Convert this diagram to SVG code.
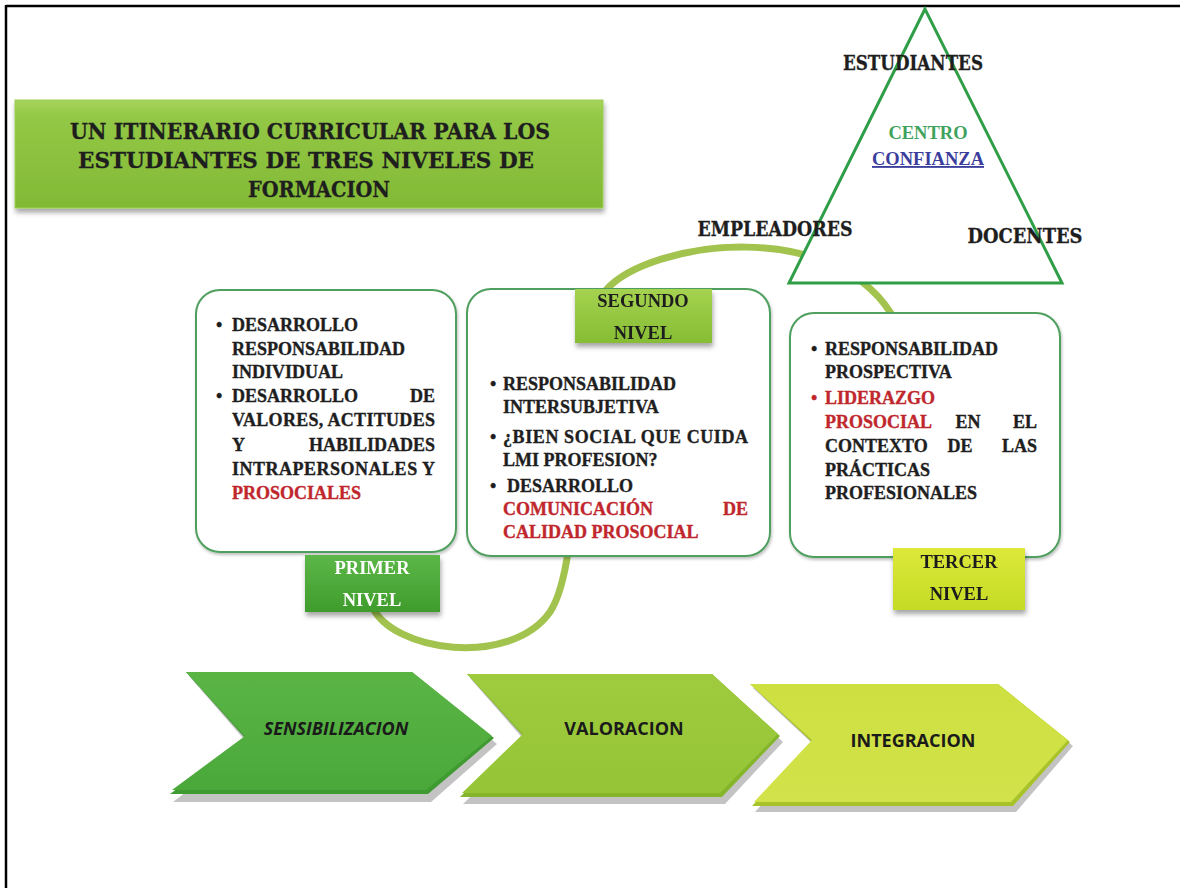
<svg xmlns="http://www.w3.org/2000/svg" width="1180" height="888" viewBox="0 0 1180 888">
<defs>
<style>
.sf{font-family:"Liberation Serif","DejaVu Serif",serif;font-weight:bold;font-size:18px;fill:#1e1e1e;stroke:#1e1e1e;stroke-width:0.35}
.hv{font-family:"DejaVu Serif","Liberation Serif",serif;font-weight:bold;fill:#1e1e1e;stroke:#1e1e1e;stroke-width:0.3}
.red{fill:#c0272d;stroke:#c0272d}
.tab{font-family:"Liberation Serif","DejaVu Serif",serif;font-weight:bold;font-size:18.5px;text-anchor:middle}
.box{fill:#ffffff;stroke:#4f9f5e;stroke-width:2}
.chev{font-family:"Open Sans","Liberation Sans",sans-serif;font-weight:bold;font-size:18px;fill:#1a1a1a;text-anchor:middle}
</style>
<linearGradient id="gTitle" x1="0" y1="0" x2="0" y2="1"><stop offset="0" stop-color="#a6d35a"/><stop offset="0.15" stop-color="#93c846"/><stop offset="1" stop-color="#82b935"/></linearGradient>
<linearGradient id="gT1" x1="0" y1="0" x2="0" y2="1"><stop offset="0" stop-color="#5cb748"/><stop offset="1" stop-color="#3f9c2c"/></linearGradient>
<linearGradient id="gT2" x1="0" y1="0" x2="0" y2="1"><stop offset="0" stop-color="#a5d250"/><stop offset="1" stop-color="#86bd33"/></linearGradient>
<linearGradient id="gT3" x1="0" y1="0" x2="0" y2="1"><stop offset="0" stop-color="#dde83a"/><stop offset="1" stop-color="#c4db24"/></linearGradient>
<linearGradient id="gC1" x1="0" y1="0" x2="0" y2="1"><stop offset="0" stop-color="#5ab545"/><stop offset="1" stop-color="#4aa83a"/></linearGradient>
<linearGradient id="gC2" x1="0" y1="0" x2="0" y2="1"><stop offset="0" stop-color="#9fcb3e"/><stop offset="1" stop-color="#95c537"/></linearGradient>
<linearGradient id="gC3" x1="0" y1="0" x2="0" y2="1"><stop offset="0" stop-color="#cde040"/><stop offset="1" stop-color="#d2e24a"/></linearGradient>
<filter id="sh" x="-10%" y="-10%" width="120%" height="130%"><feDropShadow dx="1" dy="4" stdDeviation="2.5" flood-color="#000" flood-opacity="0.35"/></filter>
<filter id="shs" x="-10%" y="-10%" width="120%" height="130%"><feDropShadow dx="1" dy="2" stdDeviation="1.5" flood-color="#000" flood-opacity="0.25"/></filter>
</defs>
<rect width="1180" height="888" fill="#ffffff"/>
<!-- frame -->
<line x1="6" y1="6" x2="1180" y2="6" stroke="#000" stroke-width="2.5"/>
<line x1="6" y1="5" x2="6" y2="888" stroke="#000" stroke-width="2.5"/>

<!-- connectors -->
<g id="connectors" fill="none" stroke="#a3c34f" stroke-width="7" stroke-linecap="round">
<path d="M 372,606 C 392,652 510,668 550,612 C 585,560 570,360 606,290 C 650,240 840,215 896,322"/>
</g>

<g id="title" filter="url(#sh)">
<rect x="15" y="100" width="588" height="108" fill="url(#gTitle)" stroke="#9bcf55" stroke-width="1"/>
</g>
<g id="title-text">
<text class="hv" x="310" y="139" font-size="22" text-anchor="middle" textLength="480" lengthAdjust="spacingAndGlyphs">UN ITINERARIO  CURRICULAR  PARA LOS</text>
<text class="hv" x="306" y="168" font-size="22" text-anchor="middle" textLength="456" lengthAdjust="spacingAndGlyphs">ESTUDIANTES  DE TRES NIVELES DE</text>
<text class="hv" x="319" y="197" font-size="22" text-anchor="middle" textLength="142" lengthAdjust="spacingAndGlyphs">FORMACION</text>
</g>

<g id="triangle">
<polygon points="925,9 789,283 1062,283" fill="#ffffff" stroke="#2f9e47" stroke-width="3" stroke-linejoin="miter"/>
<text class="hv" x="913" y="70" font-size="20" text-anchor="middle" textLength="140" lengthAdjust="spacingAndGlyphs">ESTUDIANTES</text>
<text x="928" y="139" font-family="Liberation Serif,serif" font-weight="bold" font-size="18.5" fill="#3fa35d" text-anchor="middle">CENTRO</text>
<text x="928" y="165" font-family="Liberation Serif,serif" font-weight="bold" font-size="18.5" fill="#3b3d9c" text-anchor="middle" text-decoration="underline">CONFIANZA</text>
<text class="hv" x="775" y="236" font-size="20" text-anchor="middle" textLength="155" lengthAdjust="spacingAndGlyphs">EMPLEADORES</text>
<text class="hv" x="1025" y="243" font-size="20" text-anchor="middle" textLength="115" lengthAdjust="spacingAndGlyphs">DOCENTES</text>
</g>

<g id="box1">
<rect class="box" x="196" y="290" width="260" height="262" rx="24" filter="url(#shs)"/>
<text class="sf" x="216" y="331">•</text>
<text class="sf" x="232" y="331">DESARROLLO</text>
<text class="sf" x="232" y="355">RESPONSABILIDAD</text>
<text class="sf" x="232" y="378">INDIVIDUAL</text>
<text class="sf" x="216" y="402">•</text>
<text class="sf" x="232" y="402">DESARROLLO</text>
<text class="sf" x="435" y="402" text-anchor="end">DE</text>
<text class="sf" x="232" y="426" textLength="203" lengthAdjust="spacing">VALORES, ACTITUDES</text>
<text class="sf" x="232" y="451">Y</text>
<text class="sf" x="435" y="451" text-anchor="end">HABILIDADES</text>
<text class="sf" x="232" y="475" textLength="203" lengthAdjust="spacing">INTRAPERSONALES Y</text>
<text class="sf red" x="232" y="499">PROSOCIALES</text>
</g>
<g id="primer-nivel" filter="url(#sh)">
<rect x="305" y="555" width="135" height="57" fill="url(#gT1)"/>
<text class="tab" x="372" y="574" fill="#ffffff">PRIMER</text>
<text class="tab" x="372" y="606" fill="#ffffff">NIVEL</text>
</g>

<g id="box2">
<rect class="box" x="467" y="289" width="303" height="267" rx="24" filter="url(#shs)"/>
<text class="sf" x="490" y="390">•</text>
<text class="sf" x="503" y="390">RESPONSABILIDAD</text>
<text class="sf" x="503" y="413">INTERSUBJETIVA</text>
<text class="sf" x="490" y="443">•</text>
<text class="sf" x="503" y="443" textLength="245" lengthAdjust="spacing">¿BIEN SOCIAL QUE CUIDA</text>
<text class="sf" x="503" y="466">LMI PROFESION?</text>
<text class="sf" x="490" y="492">•</text>
<text class="sf" x="507" y="492">DESARROLLO</text>
<text class="sf red" x="503" y="515">COMUNICACIÓN</text>
<text class="sf red" x="748" y="515" text-anchor="end">DE</text>
<text class="sf red" x="503" y="538">CALIDAD PROSOCIAL</text>
</g>
<g id="segundo-nivel" filter="url(#sh)">
<rect x="575" y="289" width="137" height="54" fill="url(#gT2)"/>
<text class="tab" x="643" y="307" fill="#1e1e1e">SEGUNDO</text>
<text class="tab" x="643" y="339" fill="#1e1e1e">NIVEL</text>
</g>

<g id="box3">
<rect class="box" x="790" y="313" width="270" height="244" rx="24" filter="url(#shs)"/>
<text class="sf" x="811" y="355">•</text>
<text class="sf" x="825" y="355">RESPONSABILIDAD</text>
<text class="sf" x="825" y="378">PROSPECTIVA</text>
<text class="sf red" x="811" y="404">•</text>
<text class="sf red" x="825" y="404">LIDERAZGO</text>
<text class="sf red" x="825" y="428">PROSOCIAL</text>
<text class="sf" x="968" y="428" text-anchor="middle">EN</text>
<text class="sf" x="1037" y="428" text-anchor="end">EL</text>
<text class="sf" x="825" y="452">CONTEXTO</text>
<text class="sf" x="960" y="452" text-anchor="middle">DE</text>
<text class="sf" x="1037" y="452" text-anchor="end">LAS</text>
<text class="sf" x="825" y="476">PRÁCTICAS</text>
<text class="sf" x="825" y="499">PROFESIONALES</text>
</g>
<g id="tercer-nivel" filter="url(#sh)">
<rect x="893" y="548" width="132" height="62" fill="url(#gT3)"/>
<text class="tab" x="959" y="568" fill="#1e1e1e">TERCER</text>
<text class="tab" x="959" y="600" fill="#1e1e1e">NIVEL</text>
</g>

<g id="sensibilizacion">
<polygon points="186,672 412,672 494,740 428,798 170,798 245,740" fill="#7a7a7a" opacity="0.45" transform="translate(3,4)"/>
<polygon points="186,672 412,672 494,738 428,794 170,794 245,738" fill="#3f9a31"/>
<polygon points="186,672 412,672 492,736 426,790 172,790 245,736" fill="url(#gC1)"/>
<text class="chev" x="336" y="735" font-style="italic">SENSIBILIZACION</text>
</g>
<g id="valoracion">
<polygon points="467,674 712,674 780,738 722,800 460,800 523,738" fill="#7a7a7a" opacity="0.45" transform="translate(3,4)"/>
<polygon points="467,674 712,674 780,736 722,797 460,797 523,736" fill="#84b52a"/>
<polygon points="467,674 712,674 778,734 720,793 462,793 523,734" fill="url(#gC2)"/>
<text class="chev" x="624" y="735">VALORACION</text>
</g>
<g id="integracion">
<polygon points="750,684 998,684 1070,742 1013,808 752,808 812,742" fill="#7a7a7a" opacity="0.45" transform="translate(3,4)"/>
<polygon points="750,684 998,684 1070,742 1013,806 752,806 812,742" fill="#a8c22a"/>
<polygon points="750,684 998,684 1068,740 1011,802 754,802 812,740" fill="url(#gC3)"/>
<text class="chev" x="913" y="747">INTEGRACION</text>
</g>
</svg>
